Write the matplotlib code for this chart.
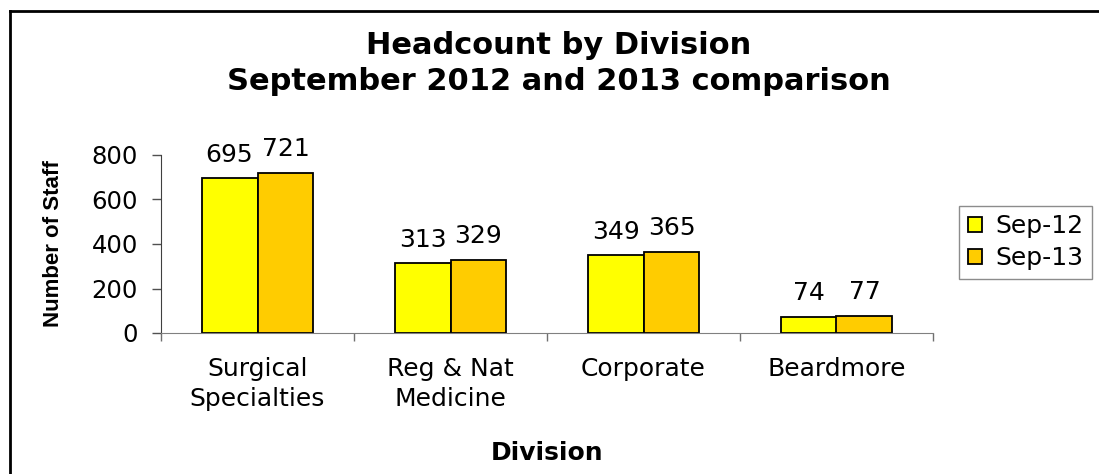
import numpy as np
import matplotlib.pyplot as plt
from matplotlib.lines import Line2D

divisions = ["Surgical\nSpecialties", "Reg & Nat\nMedicine", "Corporate", "Beardmore"]
sep12 = [695, 313, 349, 74]
sep13 = [721, 329, 365, 77]
series_names = ["Sep-12", "Sep-13"]

plt.rcParams["font.family"] = ["DejaVu Sans"]

W, H = 1099, 474
fig = plt.figure(figsize=(W / 100, H / 100), dpi=100)
ax = fig.add_axes([161 / W, 1 - 333 / H, (933 - 161) / W, (333 - 155) / H])

x = np.arange(len(divisions))
bw = 0.29
b1 = ax.bar(x - bw / 2, sep12, bw, color="#FFFF00", edgecolor="black",
            linewidth=1.3, label=series_names[0])
b2 = ax.bar(x + bw / 2, sep13, bw, color="#FFCC00", edgecolor="black",
            linewidth=1.3, label=series_names[1])

# value labels above each bar
for bars, vals in [(b1, sep12), (b2, sep13)]:
    for r, v in zip(bars, vals):
        ax.annotate(str(v), (r.get_x() + r.get_width() / 2, v),
                    xytext=(0, 12), textcoords="offset points",
                    ha="center", va="baseline", fontsize=18)

ax.set_xlim(-0.5, len(divisions) - 0.5)
ax.set_ylim(0, 800)
ax.set_yticks([0, 200, 400, 600, 800])

# category names at centres, tick marks at the boundaries
ax.set_xticks(x)
ax.set_xticklabels(divisions, fontsize=18, linespacing=1.35)
ax.set_xticks(np.arange(len(divisions) + 1) - 0.5, minor=True)
ax.tick_params(axis="x", which="major", length=0, pad=17)
ax.tick_params(axis="x", which="minor", length=6, direction="out",
               color="#707070", width=1)
ax.tick_params(axis="y", length=6.5, direction="out", color="#505050",
               width=1, pad=10, labelsize=17.5)

for s in ["top", "right"]:
    ax.spines[s].set_visible(False)
ax.spines["left"].set_color("#404040")
ax.spines["bottom"].set_color("#808080")

ax.set_ylabel("Number of Staff", fontsize=16, fontweight="bold",
              family=["Liberation Sans", "DejaVu Sans"])
ax.yaxis.set_label_coords((53.5 - 161) / 772, 0.5)
ax.yaxis.label.set_va("center")
ax.set_xlabel("Division", fontsize=18, fontweight="bold")
ax.xaxis.set_label_coords(0.5, (333 - 452.6) / 178)
ax.xaxis.label.set_va("center")

fig.text(559 / W, 1 - 54.3 / H, "Headcount by Division", ha="center",
         va="baseline", fontsize=22, fontweight="bold")
fig.text(559 / W, 1 - 90 / H, "September 2012 and 2013 comparison",
         ha="center", va="baseline", fontsize=22, fontweight="bold")

leg = ax.legend(loc="upper left", bbox_to_anchor=(959 / W, 1 - 205.7 / H),
                bbox_transform=fig.transFigure, fontsize=18, frameon=True,
                fancybox=False, handlelength=0.55, handleheight=0.55,
                handletextpad=0.55, labelspacing=0.3, borderpad=0.35,
                borderaxespad=0)
leg.get_frame().set_edgecolor("#707070")
leg.get_frame().set_linewidth(1)

# outer chart frame
fx, fy = 9.7 / W, 1 - 11.3 / H
fig.add_artist(Line2D([fx, fx], [0, fy], transform=fig.transFigure,
                      color="black", linewidth=2))
fig.add_artist(Line2D([fx, 1], [fy, fy], transform=fig.transFigure,
                      color="black", linewidth=2))

fig.savefig("out.png", dpi=100)
